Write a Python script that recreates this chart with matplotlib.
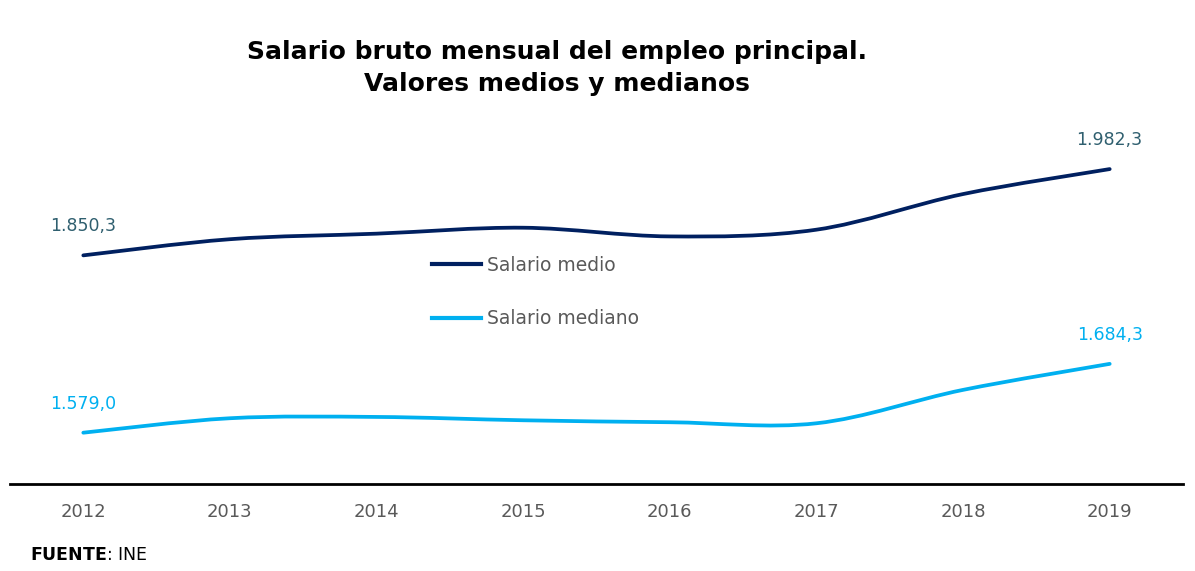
import numpy as np
import matplotlib.pyplot as plt
from matplotlib.path import Path
from matplotlib.patches import PathPatch
from matplotlib.lines import Line2D

plt.rcParams['font.family'] = ['DejaVu Sans']

years = ['2012', '2013', '2014', '2015', '2016', '2017', '2018', '2019']
salario_medio = [1850.3, 1875.0, 1883.5, 1892.6, 1879.3, 1889.6, 1944.1, 1982.3]
salario_mediano = [1579.0, 1601.1, 1603.1, 1598.0, 1595.0, 1593.4, 1644.5, 1684.3]

c_medio = '#002060'
c_mediano = '#00B0F0'
c_lab_medio = '#2F5F6F'
c_text = '#595959'


def smooth_path(xs, ys):
    # bezier a la Excel (catmull-rom)
    pts = np.column_stack([xs, ys])
    n = len(pts)
    verts = [pts[0]]
    codes = [Path.MOVETO]
    for i in range(n - 1):
        p0 = pts[max(i - 1, 0)]
        p1 = pts[i]
        p2 = pts[i + 1]
        p3 = pts[min(i + 2, n - 1)]
        verts += [p1 + (p2 - p0) / 6, p2 - (p3 - p1) / 6, p2]
        codes += [Path.CURVE4] * 3
    return Path(verts, codes)


fig = plt.figure(figsize=(11.95, 5.71), dpi=100)
ax = fig.add_axes([10 / 1195, 1 - 484 / 571, 1173 / 1195, 344 / 571])

x = np.arange(len(years))
for serie, col in [(salario_medio, c_medio), (salario_mediano, c_mediano)]:
    pp = PathPatch(smooth_path(x, serie), facecolor='none', edgecolor=col,
                   lw=2.7, capstyle='round')
    ax.add_patch(pp)

ax.set_xlim(-0.5, len(years) - 0.5)
ax.set_ylim(1500.5, 2026.8)

# etiquetas de valores extremos
for serie, col in [(salario_medio, c_lab_medio), (salario_mediano, c_mediano)]:
    for i in [0, len(serie) - 1]:
        txt = f'{serie[i]:,.1f}'.replace(',', 'X').replace('.', ',').replace('X', '.')
        ax.annotate(txt, (x[i], serie[i]), xytext=(0, 14.5), textcoords='offset points',
                    ha='center', va='bottom', color=col, fontsize=12.5)

ax.set_xticks(x)
ax.set_xticklabels(years, color=c_text, fontsize=13)
ax.tick_params(axis='x', length=0, pad=14)
ax.set_yticks([])
for s in ['top', 'right', 'left']:
    ax.spines[s].set_visible(False)
ax.spines['bottom'].set_linewidth(2)
ax.spines['bottom'].set_color('black')

handles = [Line2D([], [], color=c_medio, lw=3),
           Line2D([], [], color=c_mediano, lw=3)]
fig.legend(handles, ['Salario medio', 'Salario mediano'], loc='center left',
           bbox_to_anchor=(432 / 1195, 1 - 292 / 571), frameon=False,
           fontsize=13.5, labelcolor=c_text, handlelength=2.6,
           handletextpad=0.35, labelspacing=1.85, borderpad=0, borderaxespad=0)

fig.text(557 / 1195, 1 - 68 / 571, 'Salario bruto mensual del empleo principal.\nValores medios y medianos',
         ha='center', va='center', fontsize=18, fontweight='bold', linespacing=1.45)

fig.text(30 / 1195, 1 - 555 / 571, r'$\bf{FUENTE}$: INE', ha='left', va='center',
         fontsize=12.5, color='black')

fig.savefig('out.png', dpi=100)
